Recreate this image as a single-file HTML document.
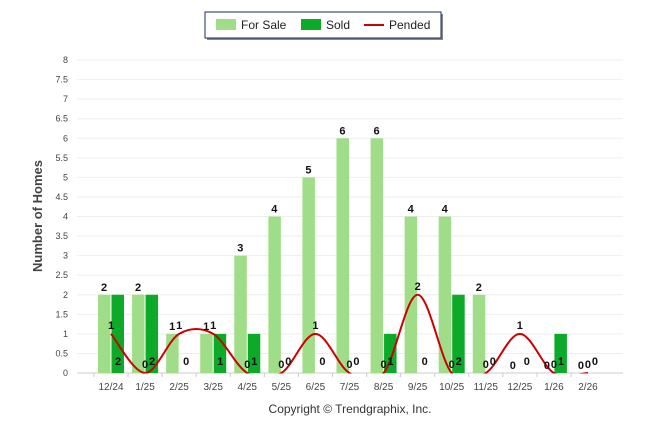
<!DOCTYPE html>
<html><head><meta charset="utf-8"><style>
body{margin:0;background:#fff;font-family:"Liberation Sans",sans-serif}
svg text{font-family:"Liberation Sans",sans-serif}
</style></head><body>
<svg id="c" width="646" height="434" xmlns="http://www.w3.org/2000/svg">
<defs><clipPath id="clip"><rect x="77" y="40" width="546" height="333.5"/></clipPath></defs>
<g>
<rect x="207" y="14" width="236" height="26" fill="#888"/>
<rect x="205" y="12" width="236" height="26" fill="#fff" stroke="#1a2a6a" stroke-width="1"/>
<rect x="216" y="19" width="20" height="11" fill="#a0dd88"/>
<text x="241" y="29" font-size="12" fill="#222">For Sale</text>
<rect x="301" y="19" width="20" height="11" fill="#0daa2a"/>
<text x="326" y="29" font-size="12" fill="#222">Sold</text>
<line x1="364" y1="25" x2="384" y2="25" stroke="#c00" stroke-width="2"/>
<text x="389" y="29" font-size="12" fill="#222">Pended</text>
</g>
<text transform="translate(42,216) rotate(-90)" text-anchor="middle" font-size="13" font-weight="bold" fill="#444">Number of Homes</text>
<text x="350" y="413" text-anchor="middle" font-size="12" fill="#333">Copyright © Trendgraphix, Inc.</text>
<g id="grid"></g><g id="bars"></g><g id="line" clip-path="url(#clip)"></g><g id="labels"></g>
</svg>
<script>
const categories=["12/24","1/25","2/25","3/25","4/25","5/25","6/25","7/25","8/25","9/25","10/25","11/25","12/25","1/26","2/26"];
const forSale=[2,2,1,1,3,4,5,6,6,4,4,2,0,0,0];
const sold=[2,2,0,1,1,0,0,0,1,0,2,0,0,1,0];
const pended=[1,0,1,1,0,0,1,0,0,2,0,0,1,0,0];
const yTicks=[0,0.5,1,1.5,2,2.5,3,3.5,4,4.5,5,5.5,6,6.5,7,7.5,8];
const NS="http://www.w3.org/2000/svg";
const y=v=>373-v*39.125;
const x=i=>111+i*34.07;
function mk(t,a,p){const e=document.createElementNS(NS,t);for(const k in a)e.setAttribute(k,a[k]);p.appendChild(e);return e;}
const G=document.getElementById('grid'),B=document.getElementById('bars'),L=document.getElementById('line'),T=document.getElementById('labels');
yTicks.forEach(v=>{
 const l=mk('line',{x1:77,x2:623,y1:y(v),y2:y(v),stroke:v===0?'#ccc':'#eee'},G);
 
 
 const t=mk('text',{x:68,y:y(v)+3,'text-anchor':'end','font-size':9,fill:'#444'},G);t.textContent=v;
 
 
});
categories.forEach((c,i)=>{
 const t=mk('text',{x:x(i),y:390,'text-anchor':'middle','font-size':10,fill:'#444'},G);t.textContent=c;
 
 
 mk('line',{x1:x(i)-17,x2:x(i)-17,y1:373,y2:377,stroke:'#ccc'},G);
 if(forSale[i]>0){const r=mk('rect',{x:x(i)-13,y:y(forSale[i]),width:12.5,height:373-y(forSale[i]),fill:'#a0dd88'},B);
 
 }
 if(sold[i]>0){const r=mk('rect',{x:x(i)+0.5,y:y(sold[i]),width:12.5,height:373-y(sold[i]),fill:'#0daa2a'},B);
 
 }
 const a=mk('text',{x:x(i)-7,y:y(forSale[i])-4,'text-anchor':'middle','font-size':11,'font-weight':'bold',fill:'#111'},T);a.textContent=forSale[i];
 
 
 const b=mk('text',{x:x(i)+7,y:365,'text-anchor':'middle','font-size':11,'font-weight':'bold',fill:'#111'},T);b.textContent=sold[i];
 
 
 const p=mk('text',{x:x(i),y:y(pended[i])-5,'text-anchor':'middle','font-size':11,'font-weight':'bold',fill:'#111'},T);p.textContent=pended[i];
 
 
});
const pts=pended.map((v,i)=>[x(i),y(v)]);
let d=`M${pts[0][0]},${pts[0][1]}`;
for(let i=0;i<pts.length-1;i++){
 const p0=pts[Math.max(0,i-1)],p1=pts[i],p2=pts[i+1],p3=pts[Math.min(pts.length-1,i+2)];
 d+=` C${p1[0]+(p2[0]-p0[0])/6},${p1[1]+(p2[1]-p0[1])/6} ${p2[0]-(p3[0]-p1[0])/6},${p2[1]-(p3[1]-p1[1])/6} ${p2[0]},${p2[1]}`;
}
const path=mk('path',{d:d,fill:'none',stroke:'#c00','stroke-width':2},L);


</script>
</body></html>
